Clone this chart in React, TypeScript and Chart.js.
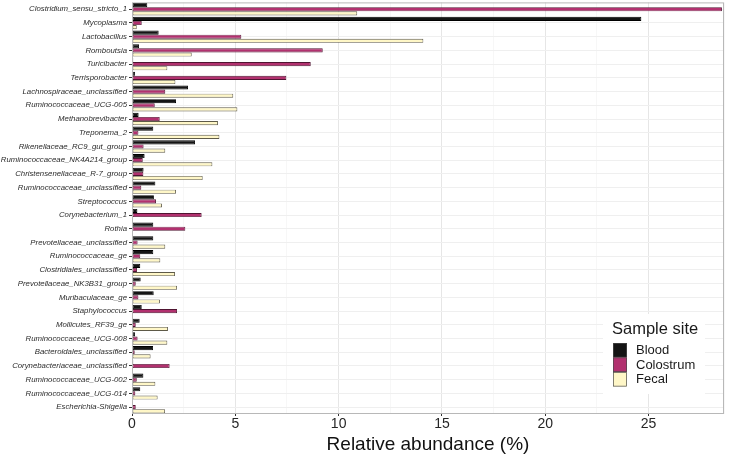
import React, { useEffect, useRef } from "react";
import { Chart, registerables } from "chart.js";

Chart.register(...registerables);

const categories = [
  "Clostridium_sensu_stricto_1",
  "Mycoplasma",
  "Lactobacillus",
  "Romboutsia",
  "Turicibacter",
  "Terrisporobacter",
  "Lachnospiraceae_unclassified",
  "Ruminococcaceae_UCG-005",
  "Methanobrevibacter",
  "Treponema_2",
  "Rikenellaceae_RC9_gut_group",
  "Ruminococcaceae_NK4A214_group",
  "Christensenellaceae_R-7_group",
  "Ruminococcaceae_unclassified",
  "Streptococcus",
  "Corynebacterium_1",
  "Rothia",
  "Prevotellaceae_unclassified",
  "Ruminococcaceae_ge",
  "Clostridiales_unclassified",
  "Prevotellaceae_NK3B31_group",
  "Muribaculaceae_ge",
  "Staphylococcus",
  "Mollicutes_RF39_ge",
  "Ruminococcaceae_UCG-008",
  "Bacteroidales_unclassified",
  "Corynebacteriaceae_unclassified",
  "Ruminococcaceae_UCG-002",
  "Ruminococcaceae_UCG-014",
  "Escherichia-Shigella",
];

const blood = [0.74, 24.65, 1.29, 0.34, 0.06, 0.15, 2.71, 2.13, 0.32, 1.03, 3.05, 0.61, 0.56, 1.13, 1.06, 0.26, 1.03, 1.03, 1.03, 0.4, 0.42, 1.05, 0.47, 0.37, 0.15, 1.02, 0.06, 0.55, 0.4, 0.02];
const colostrum = [28.55, 0.47, 5.29, 9.23, 8.65, 7.47, 1.61, 1.1, 1.34, 0.31, 0.56, 0.52, 0.55, 0.45, 1.16, 3.37, 2.58, 0.27, 0.4, 0.24, 0.18, 0.31, 2.18, 0.18, 0.27, 0.13, 1.82, 0.23, 0.16, 0.18];
const fecal = [10.9, 0.23, 14.1, 2.89, 1.71, 2.1, 4.9, 5.1, 4.16, 4.23, 1.61, 3.89, 3.42, 2.13, 1.45, 0.02, 0.02, 1.61, 1.37, 2.08, 2.18, 1.35, 0.02, 1.74, 1.71, 0.9, 0.02, 1.13, 1.24, 1.6];

const seriesNames = ["Blood", "Colostrum", "Fecal"];
const xTickStep = 2.5;
const xMax = 28.65;

const FONT = "'Liberation Sans', Arial, Helvetica, sans-serif";

const panelPlugin = {
  id: "panelBorder",
  afterDatasetsDraw(chart: any) {
    const { ctx, chartArea } = chart;
    ctx.save();
    ctx.strokeStyle = "#b8b8b8";
    ctx.lineWidth = 1;
    ctx.strokeRect(chartArea.left + 0.5, chartArea.top + 0.5, chartArea.right - chartArea.left - 1, chartArea.bottom - chartArea.top - 1);
    ctx.restore();
  },
};

const legendPlugin = {
  id: "ggLegend",
  afterDraw(chart: any) {
    const { ctx } = chart;
    ctx.save();
    ctx.fillStyle = "#ffffff";
    ctx.fillRect(603, 314, 102, 80);
    ctx.fillStyle = "#1a1a1a";
    ctx.font = `16.5px ${FONT}`;
    ctx.textBaseline = "middle";
    ctx.textAlign = "left";
    ctx.fillText("Sample site", 612, 329);
    const boxX = 613;
    const boxW = 14;
    const boxH = 14.5;
    let y = 343;
    chart.data.datasets.forEach((ds: any) => {
      ctx.fillStyle = ds.backgroundColor;
      ctx.fillRect(boxX, y, boxW, boxH);
      ctx.strokeStyle = "#4a4a4a";
      ctx.lineWidth = 0.7;
      ctx.strokeRect(boxX + 0.35, y + 0.35, boxW - 0.7, boxH - 0.7);
      ctx.fillStyle = "#1a1a1a";
      ctx.font = `13px ${FONT}`;
      ctx.fillText(ds.label, 636, y + boxH / 2 + 0.5);
      y += boxH;
    });
    ctx.restore();
  },
};

export default function App() {
  const ref = useRef<HTMLCanvasElement | null>(null);

  useEffect(() => {
    if (!ref.current) return;
    const colors = ["#141414", "#B2316F", "#FFF7C7"];
    const borders = ["#000000", "#4f1431", "#5e5a48"];
    const values = [blood, colostrum, fecal];
    const chart = new Chart(ref.current, {
      type: "bar",
      data: {
        labels: categories,
        datasets: seriesNames.map((name, i) => ({
          label: name,
          data: values[i],
          backgroundColor: colors[i],
          borderColor: borders[i],
          borderWidth: 0.9,
          borderSkipped: false,
          categoryPercentage: 0.9,
          barPercentage: 1.0,
        })),
      },
      options: {
        indexAxis: "y",
        responsive: false,
        animation: false,
        devicePixelRatio: 1,
        layout: { padding: { top: 2.4, right: 5, left: 0, bottom: 0 } },
        plugins: {
          legend: { display: false },
          tooltip: { enabled: false },
        },
        scales: {
          x: {
            type: "linear",
            min: 0,
            max: xMax,
            border: { display: false },
            grid: {
              color: (c: any) => (c.tick && Math.abs(c.tick.value % 5) < 1e-6 ? "#e6e6e6" : "#f3f3f3"),
              lineWidth: (c: any) => (c.tick && Math.abs(c.tick.value % 5) < 1e-6 ? 1 : 0.7),
              tickLength: 2,
              tickColor: (c: any) => (c.tick && Math.abs(c.tick.value % 5) < 1e-6 ? "#333333" : "rgba(0,0,0,0)"),
            },
            ticks: {
              stepSize: xTickStep,
              autoSkip: false,
              maxRotation: 0,
              padding: 0,
              color: "#262626",
              font: { family: FONT, size: 14 },
              callback: (v: any) => (Math.abs(Number(v) % 5) < 1e-6 ? String(v) : ""),
            },
            title: {
              display: true,
              text: "Relative abundance (%)",
              color: "#111111",
              font: { family: FONT, size: 19 },
              padding: { top: 0, bottom: 0 },
            },
            afterFit: (scale: any) => {
              scale.height = 42;
              scale.paddingLeft = 0;
              scale.paddingRight = 0;
            },
          },
          y: {
            type: "category",
            border: { display: false },
            grid: {
              offset: false,
              color: "#efefef",
              lineWidth: 1,
              tickLength: 3,
              tickColor: "#333333",
            },
            ticks: {
              autoSkip: false,
              padding: 2,
              color: "#2b2b2b",
              font: { family: FONT, size: 7.8, style: "italic" },
            },
            afterFit: (scale: any) => {
              scale.width = 132;
              scale.paddingTop = 0;
              scale.paddingBottom = 0;
            },
          },
        },
      },
      plugins: [panelPlugin, legendPlugin],
    });
    return () => chart.destroy();
  }, []);

  return (
    <div style={{ position: "fixed", left: 0, top: 0, width: 729, height: 456, background: "#ffffff" }}>
      <canvas ref={ref} width={729} height={456} style={{ display: "block" }} />
    </div>
  );
}
